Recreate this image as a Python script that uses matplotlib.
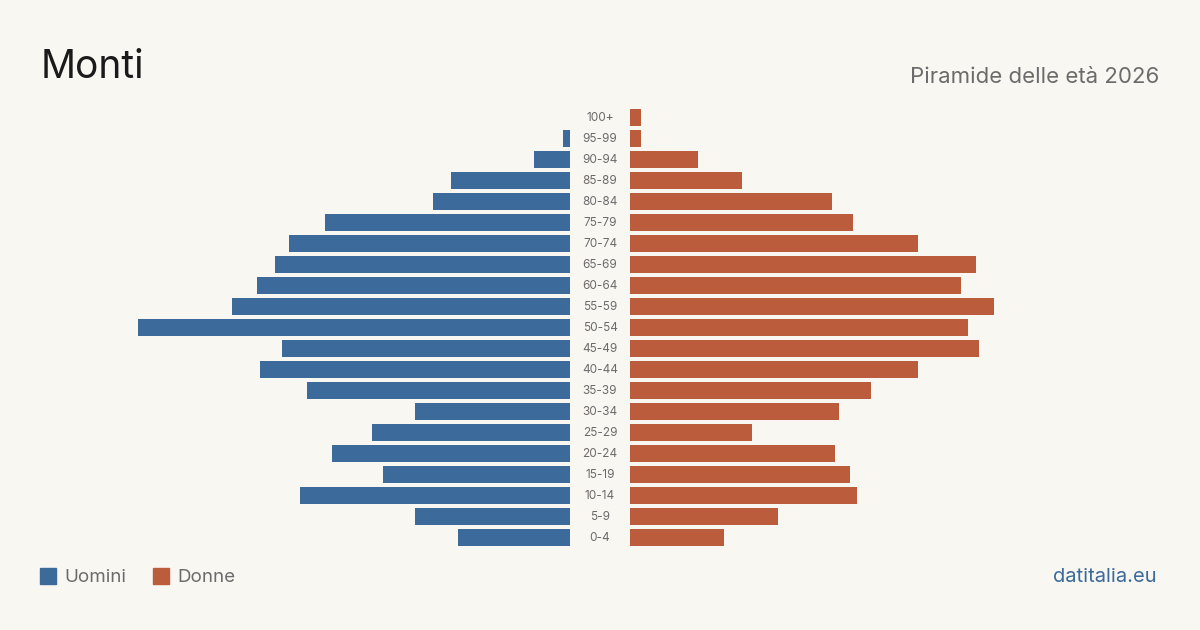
import matplotlib.pyplot as plt
from matplotlib.patches import Rectangle

plt.rcParams['font.family'] = ['Inter', 'DejaVu Sans']

# age classes, from youngest to oldest
age_groups = ['0-4', '5-9', '10-14', '15-19', '20-24', '25-29', '30-34', '35-39',
              '40-44', '45-49', '50-54', '55-59', '60-64', '65-69', '70-74',
              '75-79', '80-84', '85-89', '90-94', '95-99', '100+']
men = [31, 43, 75, 52, 66, 55, 43, 73, 86, 80, 120, 94, 87, 82, 78, 68, 38, 33, 10, 2, 0]
women = [26, 41, 63, 61, 57, 34, 58, 67, 80, 97, 94, 101, 92, 96, 80, 62, 56, 31, 19, 3, 3]

title = 'Monti'
subtitle = 'Piramide delle età 2026'
source = 'datitalia.eu'

bg = '#f9f7f2'
blue = '#3b6a9b'
orange = '#bb5c3c'

W, H = 1200, 630
fig = plt.figure(figsize=(12, 6.3), dpi=100, facecolor=bg)

px_per_unit = 3.6
n = len(age_groups)
row_h = 21
top = 117.5 - row_h / 2
bottom = top + n * row_h

def fig_axes(x0, x1, y0, y1):
    return fig.add_axes([x0 / W, 1 - y1 / H, (x1 - x0) / W, (y1 - y0) / H])

ax_m = fig_axes(120, 570, top, bottom)
ax_w = fig_axes(630, 1080, top, bottom)

ypos = list(range(n))
ax_m.barh(ypos, men, height=0.8, color=blue)
ax_w.barh(ypos, women, height=0.8, color=orange)

ax_m.set_xlim(450 / px_per_unit, 0)
ax_w.set_xlim(0, 450 / px_per_unit)
for ax in (ax_m, ax_w):
    ax.set_ylim(-0.5, n - 0.5)
    ax.set_facecolor('none')
    ax.axis('off')

# age labels in the gap between the two halves
for i, lab in enumerate(age_groups):
    y = 1 - (bottom - (i + 0.5) * row_h + 0.5) / H
    fig.text(600 / W, y, lab, ha='center', va='center', fontsize=8.5, color='#6b6b6b')

fig.text(41 / W, 1 - 67 / H, title, ha='left', va='center', fontsize=28, color='#1a1a1a')
fig.text(1159 / W, 1 - 77 / H, subtitle, ha='right', va='center', fontsize=16, color='#6b6b6b')

# legend
for x, label, c in [(40, 'Uomini', blue), (153, 'Donne', orange)]:
    fig.patches.append(Rectangle((x / W, 1 - 584 / H), 16 / W, 16 / H,
                                 transform=fig.transFigure, color=c))
    fig.text((x + 24) / W, 1 - 577 / H, label, ha='left', va='center',
             fontsize=13.5, color='#6b6b6b')

fig.text(1157 / W, 1 - 577 / H, source, ha='right', va='center', fontsize=14.5, color=blue)

fig.savefig('out.png', dpi=100, facecolor=bg)
